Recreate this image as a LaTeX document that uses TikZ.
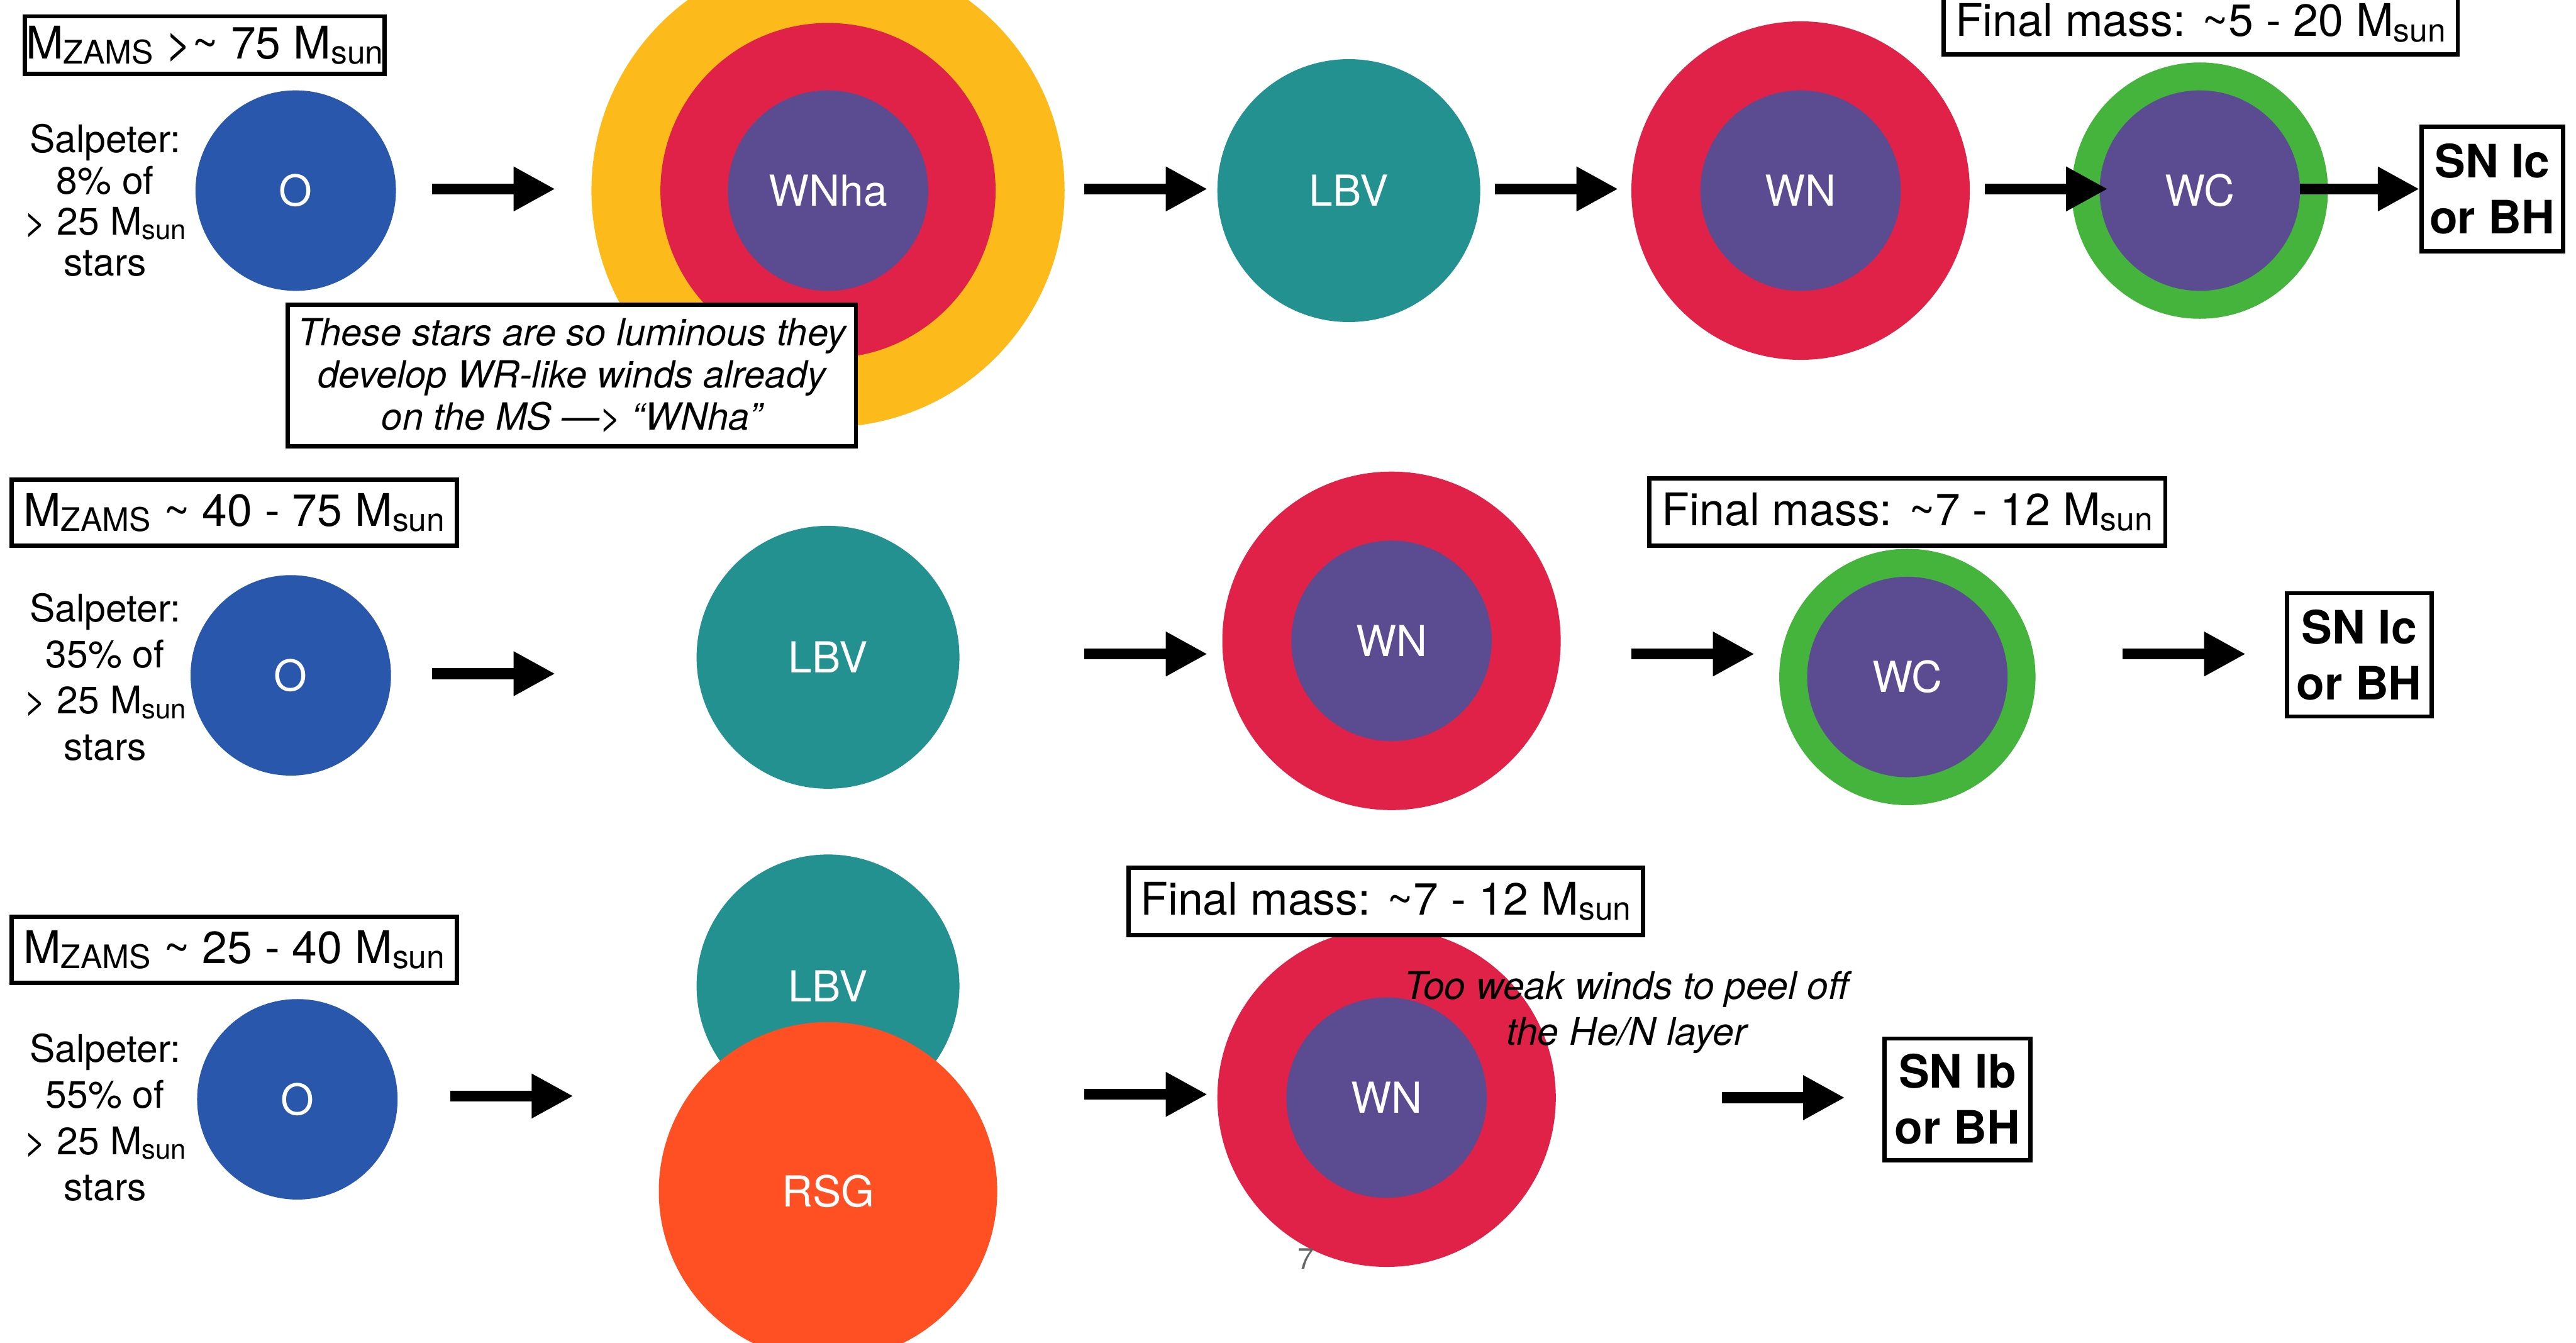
\documentclass[tikz,border=0pt]{standalone}
\usepackage{fontspec}
\usepackage{graphicx}
\setmainfont{TeX Gyre Heros}
\usetikzlibrary{arrows.meta}
\newcommand\lowsub[1]{\raisebox{-0.12em}{\scalebox{0.72}{#1}}}
\definecolor{blueO}{HTML}{2857AC}
\definecolor{yellowW}{HTML}{FDBB1B}
\definecolor{redW}{HTML}{E02248}
\definecolor{purpleW}{HTML}{5B4B91}
\definecolor{tealL}{HTML}{23918F}
\definecolor{greenC}{HTML}{45B43C}
\definecolor{orangeR}{HTML}{FE5022}
\begin{document}
\begin{tikzpicture}[x=0.5pt,y=-0.5pt,
  disc/.style={circle,inner sep=0pt,minimum size=#1,text=white,font=\fontsize{13}{15}\selectfont},
  arr/.style={line width=3.3pt,-{Triangle[length=12.7pt,width=12.7pt]}},
  lbox/.style 2 args={draw,line width=1.3pt,fill=white,inner sep=0pt,minimum width=#1,minimum height=#2,font=\fontsize{13.7}{16}\selectfont},
  snbox/.style 2 args={draw,line width=1.3pt,fill=white,inner sep=0pt,minimum width=#1,minimum height=#2,align=center,font=\bfseries\fontsize{14}{17}\selectfont},
  salp/.style={align=center,inner sep=0pt,font=\fontsize{11.6}{#1}\selectfont},
  note/.style={align=center,inner sep=0pt,font=\itshape\fontsize{11.4}{12.75}\selectfont}]
\useasboundingbox (0,0) rectangle (1568,817);

% ---------------- Row 1 ----------------
\node[disc=61pt,fill=blueO] (o1) at (180,116) {O};
\node[disc=144pt,fill=yellowW] (wnhaY) at (504,116) {};
\node[disc=102pt,fill=redW] (wnhaR) at (504,116) {};
\node[disc=61pt,fill=purpleW] (wnhaP) at (504,116) {WNha};
\node[disc=80pt,fill=tealL] (lbv1) at (821,116) {LBV};
\node[disc=103pt,fill=redW] (wn1R) at (1096,116) {};
\node[disc=61pt,fill=purpleW] (wn1P) at (1096,116) {WN};
\node[disc=78pt,fill=greenC] (wc1G) at (1339,116) {};
\node[disc=61pt,fill=purpleW] (wc1P) at (1339,116) {WC};

\node[lbox={109.5pt}{17.5pt}] (m1) at (124.5,27.5) {M\lowsub{ZAMS} >\textasciitilde{} 75 M\lowsub{sun}};
\node[salp=12.5pt] (s1) at (64,122) {Salpeter:\\8\% of\\> 25 M\lowsub{sun}\\stars};
\node[note,draw,line width=1.3pt,fill=white,minimum width=173pt,minimum height=43pt] (n1) at (348,228.5)
  {These stars are so luminous they\\develop WR-like winds already\\on the MS —> “WNha”};
\node[lbox={156.5pt}{19pt}] (f1) at (1339.5,14) {Final mass: \textasciitilde5 - 20 M\lowsub{sun}};
\node[snbox={43pt}{38pt}] (sn1) at (1517,115) {SN Ic\\or BH};

\coordinate (a1s) at (263,115); \coordinate (a1e) at (338,115);
\coordinate (a2s) at (660,115); \coordinate (a2e) at (735,115);
\coordinate (a3s) at (910,115); \coordinate (a3e) at (985,115);
\coordinate (a4s) at (1208,115); \coordinate (a4e) at (1283,115);
\coordinate (a5s) at (1400,115);
\draw[arr] (a1s) -- (a1e);
\draw[arr] (a2s) -- (a2e);
\draw[arr] (a3s) -- (a3e);
\draw[arr] (a4s) -- (a4e);
\draw[arr] (a5s) -- (sn1.west);

% ---------------- Row 2 ----------------
\node[disc=61pt,fill=blueO] (o2) at (177,411) {O};
\node[disc=80pt,fill=tealL] (lbv2) at (504,400) {LBV};
\node[disc=103pt,fill=redW] (wn2R) at (847,390) {};
\node[disc=61pt,fill=purpleW] (wn2P) at (847,390) {WN};
\node[disc=78pt,fill=greenC] (wc2G) at (1161,412) {};
\node[disc=61pt,fill=purpleW] (wc2P) at (1161,412) {WC};

\node[lbox={135.5pt}{20pt}] (m2) at (142.5,312) {M\lowsub{ZAMS} \textasciitilde{} 40 - 75 M\lowsub{sun}};
\node[salp=14pt] (s2) at (64,412) {Salpeter:\\35\% of\\> 25 M\lowsub{sun}\\stars};
\node[lbox={157pt}{20.5pt}] (f2) at (1161,311.5) {Final mass: \textasciitilde7 - 12 M\lowsub{sun}};
\node[snbox={44pt}{37.5pt}] (sn2) at (1436,398.5) {SN Ic\\or BH};

\coordinate (b1s) at (263,410); \coordinate (b1e) at (338,410);
\coordinate (b2s) at (660,398); \coordinate (b2e) at (735,398);
\coordinate (b3s) at (993,398); \coordinate (b3e) at (1068,398);
\coordinate (b4s) at (1292,398); \coordinate (b4e) at (1367,398);
\draw[arr] (b1s) -- (b1e);
\draw[arr] (b2s) -- (b2e);
\draw[arr] (b3s) -- (b3e);
\draw[arr] (b4s) -- (b4e);

% ---------------- Row 3 ----------------
\node[disc=61pt,fill=blueO] (o3) at (181,669) {O};
\node[disc=80pt,fill=tealL] (lbv3) at (504,600) {LBV};
\node[disc=103pt,fill=orangeR] (rsg3) at (504,725) {RSG};
\node[disc=103pt,fill=redW] (wn3R) at (844,668) {};
\node[disc=61pt,fill=purpleW] (wn3P) at (844,668) {WN};

\node[lbox={135.5pt}{20pt}] (m3) at (142.5,578) {M\lowsub{ZAMS} \textasciitilde{} 25 - 40 M\lowsub{sun}};
\node[salp=14pt] (s3) at (64,680) {Salpeter:\\55\% of\\> 25 M\lowsub{sun}\\stars};
\node[lbox={156.5pt}{20.5pt}] (f3) at (843.5,548.5) {Final mass: \textasciitilde7 - 12 M\lowsub{sun}};
\node[note,font=\itshape\fontsize{11.6}{14}\selectfont] (n3) at (990,616) {Too weak winds to peel off\\the He/N layer};
\node[snbox={44.5pt}{37pt}] (sn3) at (1191.5,669) {SN Ib\\or BH};

\coordinate (c1s) at (274,667); \coordinate (c1e) at (349,667);
\coordinate (c2s) at (660,666); \coordinate (c2e) at (735,666);
\coordinate (c3s) at (1048,668); \coordinate (c3e) at (1123,668);
\draw[arr] (c1s) -- (c1e);
\draw[arr] (c2s) -- (c2e);
\draw[arr] (c3s) -- (c3e);

\node[text=black!60,font=\fontsize{9}{10}\selectfont,inner sep=0pt] (pg) at (795,766) {7};
\end{tikzpicture}
\end{document}
